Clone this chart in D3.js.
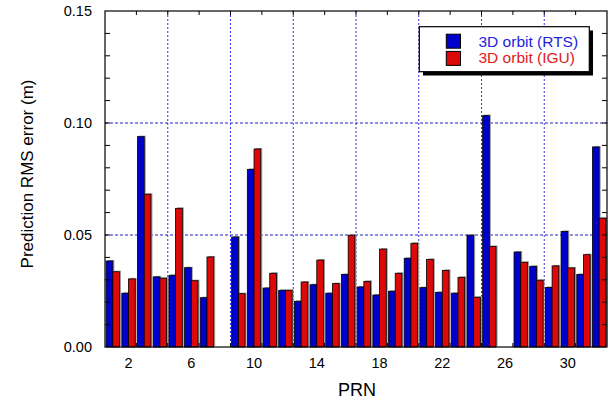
<!DOCTYPE html>
<html>
<head>
<meta charset="utf-8">
<script src="https://cdn.jsdelivr.net/npm/d3@7"></script>
<style>
  body { margin: 0; background: #fff; }
  text { font-family: Arial, "Liberation Sans", sans-serif; }
</style>
</head>
<body>
<svg id="chart" width="612" height="402"></svg>
<script>
// PRN numbers 1..32, null = no solution
var prns = d3.range(1, 33);
var rtsValues = [0.0384, 0.0240, 0.0939, 0.0313, 0.0320, 0.0354, 0.0220, null,
  0.0491, 0.0793, 0.0263, 0.0253, 0.0204, 0.0278, 0.0240, 0.0324,
  0.0268, 0.0232, 0.0249, 0.0396, 0.0265, 0.0244, 0.0240, 0.0499,
  0.1033, null, 0.0424, 0.0360, 0.0266, 0.0516, 0.0324, 0.0893];
var iguValues = [0.0336, 0.0304, 0.0682, 0.0307, 0.0619, 0.0296, 0.0402, null,
  0.0238, 0.0884, 0.0329, 0.0253, 0.0290, 0.0388, 0.0283, 0.0499,
  0.0293, 0.0437, 0.0329, 0.0463, 0.0391, 0.0342, 0.0311, 0.0222,
  0.0449, null, 0.0378, 0.0298, 0.0362, 0.0353, 0.0412, 0.0575];
var xLabels = [2, 6, 10, 14, 18, 22, 26, 30];
var yLabels = [0, 0.05, 0.10, 0.15];
var seriesNames = ["3D orbit (RTS)", "3D orbit (IGU)"];
var colors = ["#0000cc", "#dd0808"];
var textColors = ["#2222dd", "#e02020"];

var svg = d3.select("#chart");
var plotLeft = 105, plotRight = 607, plotTop = 11, plotBottom = 347;

var x = d3.scaleLinear().domain([0.5, 32.5]).range([plotLeft, plotRight]);
var y = d3.scaleLinear().domain([0, 0.15]).range([plotBottom, plotTop]);

// grid lines
var vGrid = d3.range(4.5, 29, 4);
svg.append("g").selectAll("line").data(vGrid).join("line")
  .attr("x1", d => x(d)).attr("x2", d => x(d))
  .attr("y1", plotTop).attr("y2", plotBottom)
  .attr("stroke", "#3535e0").attr("stroke-width", 1)
  .attr("stroke-dasharray", "2,2");
svg.append("g").selectAll("line").data([0.05, 0.10]).join("line")
  .attr("x1", plotLeft).attr("x2", plotRight)
  .attr("y1", d => y(d)).attr("y2", d => y(d))
  .attr("stroke", "#2020d0").attr("stroke-width", 1)
  .attr("stroke-dasharray", "3,2");

// bars
var bw = 0.427;
var barData = [];
prns.forEach(function (p, i) {
  [rtsValues[i], iguValues[i]].forEach(function (v, s) {
    if (v != null) barData.push({ prn: p, value: v, s: s });
  });
});
var bars = svg.append("g");
bars.selectAll("rect.shadow").data(barData).join("rect")
  .attr("class", "shadow")
  .attr("x", d => x(d.prn + (d.s - 1) * bw) + 1.5)
  .attr("y", d => y(d.value) - 1)
  .attr("width", x(bw) - x(0))
  .attr("height", d => y(0) - y(d.value))
  .attr("fill", "#999");
bars.selectAll("rect.bar").data(barData).join("rect")
  .attr("class", "bar")
  .attr("x", d => x(d.prn + (d.s - 1) * bw))
  .attr("y", d => y(d.value))
  .attr("width", x(bw) - x(0))
  .attr("height", d => y(0) - y(d.value))
  .attr("fill", d => colors[d.s])
  .attr("stroke", "#000").attr("stroke-width", 0.8);

// frame
svg.append("rect")
  .attr("x", plotLeft).attr("y", plotTop)
  .attr("width", plotRight - plotLeft).attr("height", plotBottom - plotTop)
  .attr("fill", "none").attr("stroke", "#000").attr("stroke-width", 1.2);

// tick marks (inward)
var yMinor = d3.range(0.01, 0.15, 0.01);
var tickG = svg.append("g").attr("stroke", "#000").attr("stroke-width", 1);
yMinor.forEach(function (v) {
  tickG.append("line").attr("x1", plotLeft).attr("x2", plotLeft + 5).attr("y1", y(v)).attr("y2", y(v));
  tickG.append("line").attr("x1", plotRight).attr("x2", plotRight - 5).attr("y1", y(v)).attr("y2", y(v));
});
d3.range(2.5, 32, 2).forEach(function (v) {
  tickG.append("line").attr("x1", x(v)).attr("x2", x(v)).attr("y1", plotTop).attr("y2", plotTop + 4);
  tickG.append("line").attr("x1", x(v)).attr("x2", x(v)).attr("y1", plotBottom).attr("y2", plotBottom - 4);
});

// tick labels
svg.append("g").selectAll("text").data(yLabels).join("text")
  .attr("x", plotLeft - 13).attr("y", d => y(d) + 5)
  .attr("text-anchor", "end").attr("font-size", 14.5)
  .text(d => d3.format(".2f")(d));
svg.append("g").selectAll("text").data(xLabels).join("text")
  .attr("x", d => x(d)).attr("y", 368)
  .attr("text-anchor", "middle").attr("font-size", 14.5)
  .text(d => d);

// axis titles
svg.append("text")
  .attr("transform", "translate(33,174) rotate(-90)")
  .attr("text-anchor", "middle").attr("font-size", 17)
  .text("Prediction RMS error (m)");
svg.append("text")
  .attr("x", 357).attr("y", 395.5)
  .attr("text-anchor", "middle").attr("font-size", 18)
  .text("PRN");

// legend
var lg = svg.append("g");
lg.append("rect").attr("x", 423).attr("y", 30.5).attr("width", 170).attr("height", 45).attr("fill", "#000");
lg.append("rect").attr("x", 419.3).attr("y", 26.7).attr("width", 170).attr("height", 45)
  .attr("fill", "#fff").attr("stroke", "#000").attr("stroke-width", 1.2);
seriesNames.forEach(function (name, i) {
  lg.append("rect").attr("x", 446.3).attr("y", 34.2 + i * 17.2).attr("width", 14.2).attr("height", 14)
    .attr("fill", colors[i]).attr("stroke", "#000").attr("stroke-width", 1);
  lg.append("text").attr("x", 478.5).attr("y", 46.5 + i * 16.8)
    .attr("font-size", 15.5).attr("fill", textColors[i]).text(name);
});
</script>
</body>
</html>
